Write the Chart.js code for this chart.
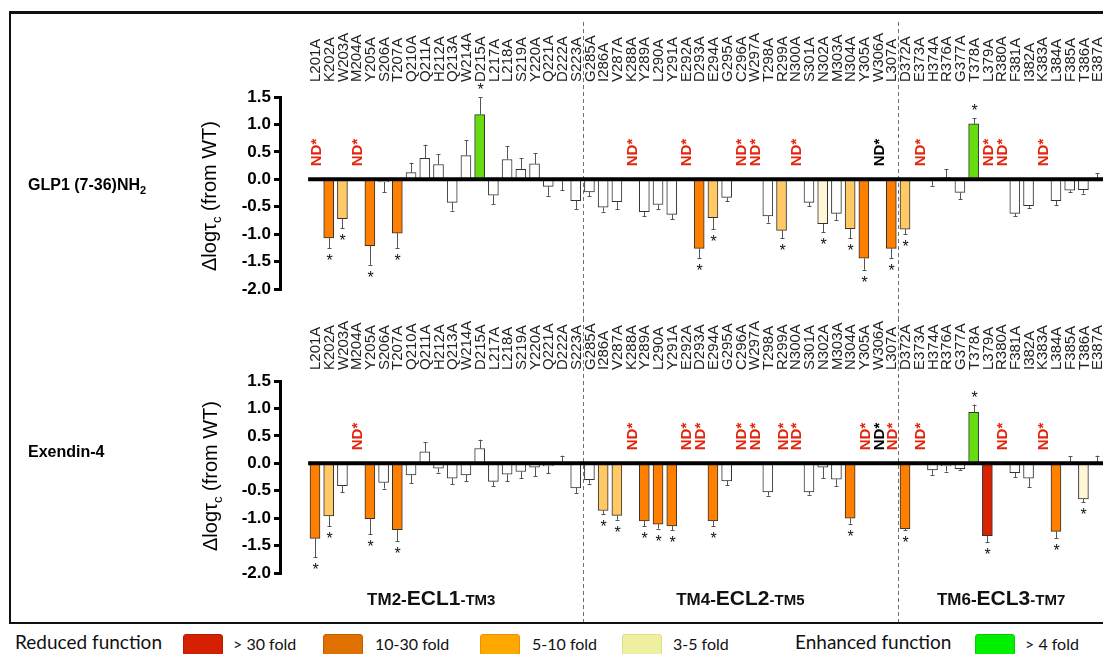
<!DOCTYPE html>
<html>
<head>
<meta charset="utf-8">
<script src="https://cdn.jsdelivr.net/npm/chart.js@4"></script>
<style>
  body { margin: 0; width: 1103px; height: 654px; overflow: hidden; background: #fff; position: relative; font-family: "Liberation Sans", Arial, sans-serif; }
  canvas { position: absolute; left: 0; }
  #frame { position: absolute; left: 9px; top: 11px; width: 1120px; height: 608px; border-top: 3px solid #111; border-left: 2px solid #111; border-bottom: 2px solid #111; }
  .panel { position: absolute; left: 28px; font-weight: bold; font-size: 16px; line-height: 16px; white-space: nowrap; }
  .panel sub { font-size: 11px; vertical-align: -4px; }
  .ytitle { position: absolute; font-size: 20px; white-space: nowrap; transform: translate(-50%, -50%) rotate(-90deg); }
  .ytitle sub { font-size: 13px; vertical-align: -5px; }
  .lg { position: absolute; top: 630px; font-family: Lato, sans-serif; font-size: 19px; line-height: 24px; color: #111; white-space: nowrap; }
  .lg.s { font-size: 16px; top: 632px; }
  .box { position: absolute; top: 634px; width: 40px; height: 22px; border-radius: 3px; box-sizing: border-box; }
</style>
</head>
<body>
<div id="frame"></div>
<canvas id="top" width="1110" height="318" style="top:0"></canvas>
<canvas id="bottom" width="1110" height="304" style="top:318px"></canvas>

<div class="panel" style="top:177px">GLP1 (7-36)NH<sub>2</sub></div>
<div class="panel" style="top:444px">Exendin-4</div>
<div class="ytitle" style="left:211px; top:196px">&Delta;log&tau;<sub>c</sub> (from WT)</div>
<div class="ytitle" style="left:212px; top:476px">&Delta;log&tau;<sub>c</sub> (from WT)</div>

<div class="lg" style="left:15px">Reduced function</div>
<div class="box" style="left:183px; background:#d42000; border:1px solid #b81c00"></div>
<div class="lg s" style="left:233px">&gt; 30 fold</div>
<div class="box" style="left:323px; background:#e07000; border:1px solid #c05e00"></div>
<div class="lg s" style="left:375px">10-30 fold</div>
<div class="box" style="left:480px; background:#ffa800; border:1px solid #f09000"></div>
<div class="lg s" style="left:532px">5-10 fold</div>
<div class="box" style="left:622px; background:#eef0a0; border:1px solid #dcdc90"></div>
<div class="lg s" style="left:673px">3-5 fold</div>
<div class="lg" style="left:795px">Enhanced function</div>
<div class="box" style="left:975px; background:#00f000; border:1px solid #00d000"></div>
<div class="lg s" style="left:1025px">&gt; 4 fold</div>

<script>
// mutants, grouped by receptor region
const tm2Cats = ['L201A','K202A','W203A','M204A','Y205A','S206A','T207A','Q210A','Q211A','H212A',
  'Q213A','W214A','D215A','L217A','L218A','S219A','Y220A','Q221A','D222A','S223A'];
const tm4Cats = ['G285A','I286A','V287A','K288A','Y289A','L290A','Y291A','E292A','D293A','E294A',
  'G295A','C296A','W297A','T298A','R299A','N300A','S301A','N302A','M303A','N304A','Y305A','W306A','L307A'];
const tm6Cats = ['D372A','E373A','H374A','R376A','G377A','T378A','L379A','R380A','F381A','I382A',
  'K383A','L384A','F385A','T386A','E387A'];
const categories = tm2Cats.concat(tm4Cats, tm6Cats);
const regionNames = [['TM2-', 'ECL1', '-TM3'], ['TM4-', 'ECL2', '-TM5'], ['TM6-', 'ECL3', '-TM7']];
const yTicks = [-2.0, -1.5, -1.0, -0.5, 0.0, 0.5, 1.0, 1.5];

// GLP1(7-36)NH2 : null = not determined
const glpValues = [null,-1.07,-0.72,null,-1.21,-0.05,-0.98,0.12,0.38,0.27,
  -0.42,0.43,1.18,-0.29,0.36,0.18,0.28,-0.13,-0.01,-0.39,
  -0.23,-0.51,-0.41,null,-0.59,-0.46,-0.64,null,-1.26,-0.70,
  -0.33,null,null,-0.67,-0.93,null,-0.42,-0.81,-0.62,-0.90,-1.44,null,-1.26,
  -0.91,null,-0.01,0.03,-0.24,1.01,null,null,-0.62,-0.48,null,-0.39,-0.20,-0.19,0.01];
const glpErrors = [0,0.19,0.17,0,0.35,0.19,0.27,0.18,0.25,0.19,
  0.15,0.28,0.32,0.16,0.24,0.20,0.20,0.17,0.19,0.16,
  0.08,0.08,0.13,0,0.08,0.09,0.09,0,0.18,0.21,
  0.07,0,0,0.12,0.14,0,0.07,0.16,0.12,0.17,0.21,0,0.18,
  0.09,0,0.11,0.15,0.12,0.10,0,0,0.05,0.04,0,0.08,0.04,0.07,0.10];
// fold class: n none, r >30, o 10-30, l 5-10, p 3-5, g enhanced
const glpClass = ['n','o','l','n','o','n','o','n','n','n','n','n','g','n','n','n','n','n','n','n',
  'n','n','n','n','n','n','n','n','o','l','n','n','n','n','l','n','n','p','n','l','o','n','o',
  'l','n','n','l','n','g','n','n','n','n','n','n','n','n','n'];
const glpStars = [0,1,1,0,1,0,1,0,0,0,0,0,1,0,0,0,0,0,0,0,
  0,0,0,0,0,0,0,0,1,1,0,0,0,0,1,0,0,1,0,1,1,0,1,
  1,0,0,0,0,1,0,0,0,0,0,0,0,0,0];
// ND marks: 1 red, 2 black
const glpND = [1,0,0,1,0,0,0,0,0,0,0,0,0,0,0,0,0,0,0,0,
  0,0,0,1,0,0,0,1,0,0,0,1,1,0,0,1,0,0,0,0,0,2,0,
  0,1,0,0,0,0,1,1,0,0,1,0,0,0,0];

// Exendin-4
const exValues = [-1.37,-0.96,-0.41,null,-1.01,-0.35,-1.21,-0.21,0.21,-0.09,
  -0.27,-0.21,0.27,-0.33,-0.20,-0.15,-0.07,-0.05,0.01,-0.45,
  -0.30,-0.86,-0.95,null,-1.05,-1.11,-1.14,null,null,-1.05,
  -0.32,null,null,-0.52,null,null,-0.52,-0.07,-0.29,-1.00,null,null,null,
  -1.19,null,-0.12,-0.05,-0.10,0.93,-1.32,null,-0.17,-0.27,null,-1.24,0.01,-0.65,0.02];
const exErrors = [0.34,0.19,0.12,0,0.28,0.11,0.21,0.15,0.17,0.08,
  0.11,0.12,0.16,0.09,0.13,0.12,0.17,0.13,0.13,0.09,
  0.07,0.07,0.08,0,0.10,0.08,0.08,0,0,0.10,
  0.08,0,0,0.07,0,0,0.05,0.20,0.12,0.10,0,0,0,
  0.03,0,0.09,0.10,0.02,0.14,0.12,0,0.08,0.16,0,0.13,0.12,0.06,0.12];
const exClass = ['o','l','n','n','o','n','o','n','n','n','n','n','n','n','n','n','n','n','n','n',
  'n','l','l','n','o','o','o','n','n','o','n','n','n','n','n','n','n','n','n','o','n','n','n',
  'o','n','n','n','n','g','r','n','n','n','n','o','n','p','n'];
const exStars = [1,1,0,0,1,0,1,0,0,0,0,0,0,0,0,0,0,0,0,0,
  0,1,1,0,1,1,1,0,0,1,0,0,0,0,0,0,0,0,0,1,0,0,0,
  1,0,0,0,0,1,1,0,0,0,0,1,0,1,0];
const exND = [0,0,0,1,0,0,0,0,0,0,0,0,0,0,0,0,0,0,0,0,
  0,0,0,1,0,0,0,1,1,0,0,1,1,0,1,1,0,0,0,0,1,2,1,
  0,1,0,0,0,0,0,1,0,0,1,0,0,0,0];

const FILL = { n: '#ffffff', r: '#d82200', o: '#ff7f00', l: '#ffc966', p: '#fff6d6', g: '#66dd11' };
const ND_COLOR = { 1: '#e2250f', 2: '#000000' };
const FONT = '"Liberation Sans", Arial, sans-serif';

const annot = {
  id: 'annot',
  afterDatasetsDraw(chart, args, o) {
    const { ctx, chartArea: a, scales: { x, y } } = chart;
    const y0 = y.getPixelForValue(0);
    ctx.save();

    // region separators
    ctx.strokeStyle = '#707070';
    ctx.lineWidth = 1;
    ctx.setLineDash([4, 3]);
    const bounds = [tm2Cats.length - 0.5, tm2Cats.length + tm4Cats.length - 0.5];
    bounds.forEach(b => {
      const px = Math.round(x.getPixelForValue(b)) + 0.5;
      ctx.beginPath(); ctx.moveTo(px, o.dashTop); ctx.lineTo(px, chart.height); ctx.stroke();
    });
    ctx.setLineDash([]);

    // error bars, stars, ND
    o.values.forEach((v, i) => {
      const px = Math.round(x.getPixelForValue(i)) + 0.5;
      if (v !== null) {
        const dir = v < 0 ? -1 : 1;
        const base = y.getPixelForValue(v);
        const end = y.getPixelForValue(v + dir * o.errors[i]);
        ctx.strokeStyle = '#555';
        ctx.lineWidth = 1;
        ctx.beginPath();
        ctx.moveTo(px, base); ctx.lineTo(px, end);
        ctx.moveTo(px - 2, Math.round(end) + 0.5); ctx.lineTo(px + 2, Math.round(end) + 0.5);
        ctx.stroke();
        if (o.stars[i]) {
          ctx.fillStyle = '#111';
          ctx.font = '16px ' + FONT;
          ctx.textAlign = 'center';
          ctx.textBaseline = 'alphabetic';
          ctx.fillText('*', px, dir < 0 ? end + 18 : end - 2);
        }
      }
      if (o.nd[i]) {
        ctx.save();
        ctx.translate(px, y0 - 13);
        ctx.rotate(-Math.PI / 2);
        ctx.fillStyle = ND_COLOR[o.nd[i]];
        ctx.font = 'bold 15px ' + FONT;
        ctx.textAlign = 'left';
        ctx.textBaseline = 'middle';
        ctx.fillText('ND*', 0, 1);
        ctx.restore();
      }
    });

    // mutant names above the plot
    ctx.fillStyle = '#222';
    ctx.font = '15px ' + FONT;
    ctx.textAlign = 'left';
    ctx.textBaseline = 'middle';
    categories.forEach((c, i) => {
      ctx.save();
      ctx.translate(x.getPixelForValue(i), a.top - o.labelGap);
      ctx.rotate(-Math.PI / 2);
      ctx.fillText(c, 0, 1);
      ctx.restore();
    });

    // zero line
    ctx.strokeStyle = '#000';
    ctx.lineWidth = 4;
    ctx.beginPath();
    ctx.moveTo(x.getPixelForValue(-0.5), y0);
    ctx.lineTo(chart.width, y0);
    ctx.stroke();

    // region names
    if (o.regionY) {
      const edges = [a.left, x.getPixelForValue(bounds[0]), x.getPixelForValue(bounds[1]), a.right];
      const sizes = [17, 21, 15];
      ctx.fillStyle = '#111';
      ctx.textBaseline = 'alphabetic';
      ctx.textAlign = 'left';
      regionNames.forEach((parts, r) => {
        const widths = parts.map((p, k) => { ctx.font = 'bold ' + sizes[k] + 'px ' + FONT; return ctx.measureText(p).width; });
        let cx = (edges[r] + edges[r + 1]) / 2 - widths.reduce((s, w) => s + w, 0) / 2;
        parts.forEach((p, k) => {
          ctx.font = 'bold ' + sizes[k] + 'px ' + FONT;
          ctx.fillText(p, cx, o.regionY);
          cx += widths[k];
        });
      });
    }
    ctx.restore();
  }
};

function panel(id, values, errors, classes, stars, nd, pad, extra) {
  return new Chart(document.getElementById(id), {
    type: 'bar',
    data: {
      datasets: [{
        data: values.map((v, i) => ({ x: i, y: v })),
        backgroundColor: classes.map(c => FILL[c]),
        borderColor: '#333',
        borderWidth: 1,
        barThickness: 10
      }]
    },
    options: {
      responsive: false,
      animation: false,
      events: [],
      layout: { padding: { left: 240, right: 6, top: pad[0], bottom: pad[1] } },
      plugins: {
        legend: { display: false },
        tooltip: { enabled: false },
        annot: Object.assign({ values, errors, stars, nd }, extra)
      },
      scales: {
        x: { type: 'linear', display: false, offset: false, min: -2.55, max: categories.length - 0.5 },
        y: {
          min: yTicks[0],
          max: yTicks[yTicks.length - 1],
          afterFit: s => { s.width = 40; },
          afterBuildTicks: s => { s.ticks = yTicks.map(v => ({ value: v })); },
          ticks: {
            color: '#000',
            padding: 3,
            font: { family: FONT, size: 17, weight: 'bold' },
            callback: v => v.toFixed(1)
          },
          grid: { drawOnChartArea: false, color: '#000', lineWidth: 3, tickLength: 6 },
          border: { color: '#000', width: 3 }
        }
      }
    },
    plugins: [annot]
  });
}

panel('top', glpValues, glpErrors, glpClass, glpStars, glpND, [97, 29], { dashTop: 22, labelGap: 15 });
panel('bottom', exValues, exErrors, exClass, exStars, exND, [63, 49], { dashTop: 0, labelGap: 11, regionY: 287 });
</script>
</body>
</html>
